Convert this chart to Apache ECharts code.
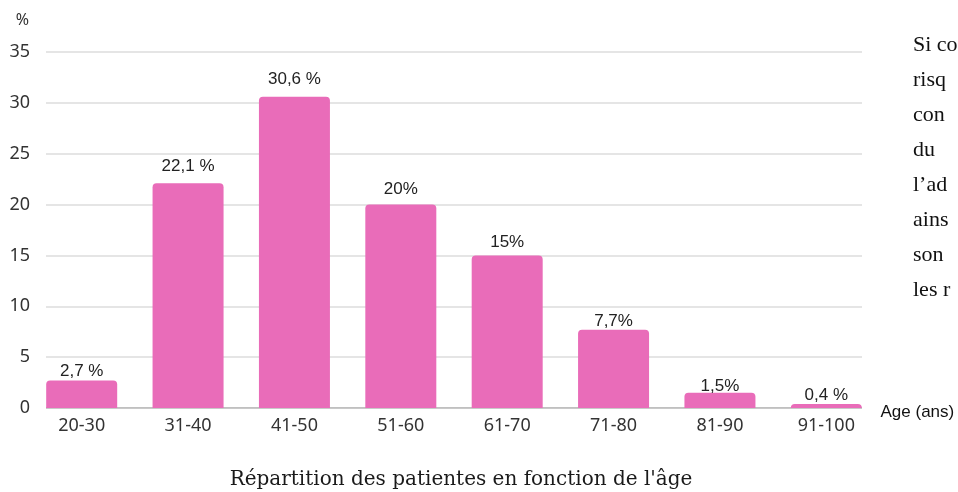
<!DOCTYPE html>
<html><head><meta charset="utf-8">
<script src="https://cdn.jsdelivr.net/npm/echarts@6/dist/echarts.min.js"></script>
<style>html,body{margin:0;padding:0;background:#fff}#c{width:958px;height:492px}</style>
</head><body><div id="c"></div>
<script>
var categories = ['20-30','31-40','41-50','51-60','61-70','71-80','81-90','91-100'];
var values = [2.7, 22.1, 30.6, 20, 15, 7.7, 1.5, 0.4];
var valueLabels = ['2,7 %','22,1 %','30,6 %','20%','15%','7,7%','1,5%','0,4 %'];
var yTicks = [0,5,10,15,20,25,30,35];
var sideLines = ['Si co','risq','con','du','l\u2019ad','ains','son','les r'];
var title = "R\u00e9partition des patientes en fonction de l'\u00e2ge";
// label offsets (styling only)
var labelDistances = [1, 8, 9, 7, 5, 0, -2, 0];

var chart = echarts.init(document.getElementById('c'));
var sideTexts = sideLines.map(function(t,i){
  return {type:'text', left:913, top:34+i*35.1, style:{text:t, font:'22px "Liberation Serif", serif', fill:'#111'}};
});
var barData = values.map(function(v,i){
  return {value:v, label:{distance:labelDistances[i]}};
});
chart.setOption({
  animation:false,
  graphic: sideTexts,
  title:{text:title, left:456, top:465, textAlign:'center',
    textStyle:{fontFamily:'"DejaVu Serif", serif', fontSize:20, fontWeight:'normal', color:'#1a1a1a'}},
  grid:[
    {left:28.5, right:78.5, top:52, bottom:84},
    {left:46, right:96, top:52, bottom:84}
  ],
  xAxis:[
    {type:'category', gridIndex:0, data:categories,
      axisLine:{show:false}, axisTick:{show:false},
      axisLabel:{fontFamily:'"Noto Sans", sans-serif', fontSize:18, color:'#333', margin:9},
      name:'Age (ans)', nameLocation:'end', nameGap:1,
      nameTextStyle:{fontFamily:'"Liberation Sans", Arial, sans-serif', fontSize:17, color:'#111', verticalAlign:'top', lineHeight:8}},
    {type:'value', gridIndex:1, min:0, max:1, show:false}
  ],
  yAxis:[
    {type:'value', gridIndex:0, min:0, max:35, interval:5, show:false},
    {type:'value', gridIndex:1, min:0, max:35, interval:5,
      axisLine:{show:false}, axisTick:{show:false},
      axisLabel:{fontFamily:'"Noto Sans", sans-serif', fontSize:18, color:'#333', margin:16},
      splitLine:{lineStyle:{color:'#dcdcdc', width:1.5}},
      name:'%', nameLocation:'end', nameGap:24,
      nameTextStyle:{fontFamily:'"Noto Sans", sans-serif', fontSize:16, color:'#333', align:'right', padding:[0,17,0,0]}}
  ],
  series:[
    {type:'line', xAxisIndex:1, yAxisIndex:1, data:[[0,0],[1,0]], symbol:'none',
      lineStyle:{color:'#b5b5b5', width:1.5}, silent:true, z:1},
    {type:'bar', xAxisIndex:0, yAxisIndex:0, data:barData, barWidth:71,
      itemStyle:{color:'#E96CB9', borderRadius:[4,4,0,0]}, z:3,
      label:{show:true, position:'top', distance:9,
        formatter:function(p){return valueLabels[p.dataIndex];},
        fontFamily:'"Liberation Sans", Arial, sans-serif', fontSize:17, color:'#222'}}
  ]
});
</script></body></html>
